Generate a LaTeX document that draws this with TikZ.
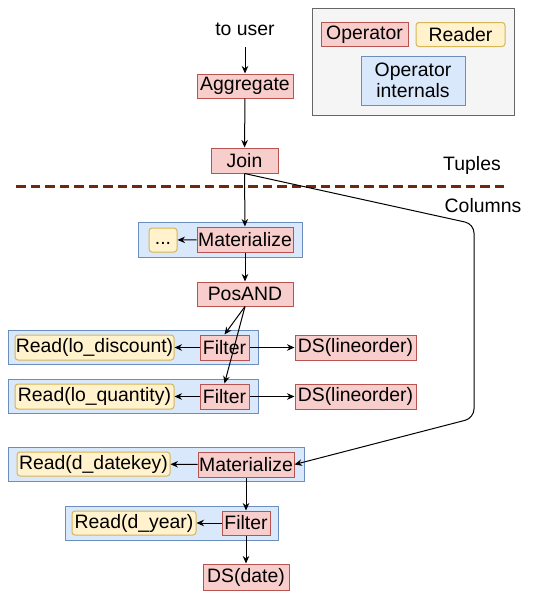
\documentclass[tikz,border=0pt]{standalone}
\usepackage{fontspec}
\setmainfont{Liberation Sans}
\usetikzlibrary{arrows.meta}
\definecolor{opfill}{HTML}{F8CECC}
\definecolor{opline}{HTML}{B85450}
\definecolor{rdfill}{HTML}{FFF2CC}
\definecolor{rdline}{HTML}{D6B656}
\definecolor{infill}{HTML}{DAE8FC}
\definecolor{inline}{HTML}{6C8EBF}
\definecolor{lgfill}{HTML}{F5F5F5}
\definecolor{lgline}{HTML}{666666}
\definecolor{sepline}{RGB}{112,40,10}
\tikzset{
  box/.style={inner sep=0pt, minimum height=25pt, line width=1pt, align=center,
              font=\fontsize{19.4}{21.5}\selectfont},
  op/.style={box, draw=opline, fill=opfill},
  rd/.style={box, draw=rdline, fill=rdfill, rounded corners=3pt},
  grp/.style={box, draw=inline, fill=infill, minimum height=34pt},
  lbl/.style={inner sep=0pt, font=\fontsize{19.4}{21.5}\selectfont},
  flow/.style={line width=1pt, -{Stealth[length=7.5pt,width=6.5pt]}},
}
\begin{document}
\begin{tikzpicture}[x=1pt, y=-1pt]
\useasboundingbox (0,0) rectangle (534,592);

% legend
\node[box, draw=lgline, fill=lgfill, minimum width=202pt, minimum height=107pt] (legend) at (413,61.5) {};
\node[op, minimum width=87pt, minimum height=24pt] (lgop) at (364.5,34.5) {Operator};
\node[rd, minimum width=89pt, minimum height=24pt] (lgrd) at (460.5,34.5) {Reader};
\node[box, draw=inline, fill=infill, minimum width=104pt, minimum height=49pt] (lgin) at (413,80.5) {Operator\\internals};

% labels and the tuple/column boundary
\node[lbl] (touser) at (245,29.5) {to user};
\coordinate (touserend) at (245,47);
\node[lbl] (tuples) at (472,165) {Tuples};
\node[lbl] (columns) at (483,205.5) {Columns};
\coordinate (sepL) at (16,186);
\coordinate (sepR) at (508,186);
\draw[sepline, line width=3pt, dash pattern=on 9.5pt off 5pt] (sepL) -- (sepR);

% operator internals groups
\node[grp, minimum width=164pt, minimum height=35pt] (g1) at (220,239.5) {};
\node[grp, minimum width=250pt] (g2) at (133,347) {};
\node[grp, minimum width=250pt] (g3) at (133,396) {};
\node[grp, minimum width=296pt] (g4) at (156,464) {};
\node[grp, minimum width=213pt] (g5) at (171.5,523) {};

% operators and readers
\node[op, minimum width=96pt, minimum height=24pt] (agg) at (245,86) {Aggregate};
\node[op, minimum width=67pt] (join) at (244.5,160.5) {Join};
\node[op, minimum width=96pt] (mat1) at (245,239.5) {Materialize};
\node[rd, minimum width=28pt, minimum height=24pt] (dots) at (163,240) {\vphantom{Mg}{.}{.}{.}};
\node[op, minimum width=96pt, minimum height=24pt] (posand) at (245,294) {PosAND};

\node[rd, minimum width=159pt] (rdisc) at (94.5,347.5) {Read(lo\_discount)};
\node[op, minimum width=49pt] (filt1) at (224.5,347.5) {Filter};
\node[op, minimum width=121pt] (ds1) at (355.5,347.5) {DS(lineorder)};

\node[rd, minimum width=159pt] (rqty) at (94.5,396.5) {Read(lo\_quantity)};
\node[op, minimum width=49pt] (filt2) at (224.5,396.5) {Filter};
\node[op, minimum width=121pt] (ds2) at (355.5,396.5) {DS(lineorder)};

\node[rd, minimum width=153pt, minimum height=24pt] (rdate) at (93.5,464) {Read(d\_datekey)};
\node[op, minimum width=96pt] (mat2) at (246,464.5) {Materialize};

\node[rd, minimum width=124pt, minimum height=24pt] (ryear) at (134,523) {Read(d\_year)};
\node[op, minimum width=48pt, minimum height=24pt] (filt3) at (246,523) {Filter};
\node[op, minimum width=86pt, minimum height=26pt] (dsdate) at (246,577) {DS(date)};

% data flow
\draw[flow] (touserend) -- (agg.north);
\draw[flow] (agg) -- (join);
\draw[flow] (join) -- (mat1);
\draw[flow] (mat1) -- (dots);
\draw[flow] (mat1) -- (posand);
\draw[flow] (posand.south) -- (filt1.north);
\draw[flow] (posand.south) -- (filt2.north);
\draw[flow] (filt1) -- (rdisc);
\draw[flow] (filt1) -- (ds1);
\draw[flow] (filt2) -- (rqty);
\draw[flow] (filt2) -- (ds2);
\draw[flow, rounded corners=9pt] (join.south) -- (474,224) -- (474,418) -- (mat2.east);
\draw[flow] (mat2) -- (rdate);
\draw[flow] (mat2) -- (filt3);
\draw[flow] (filt3) -- (ryear);
\draw[flow] (filt3) -- (dsdate);
\end{tikzpicture}
\end{document}
